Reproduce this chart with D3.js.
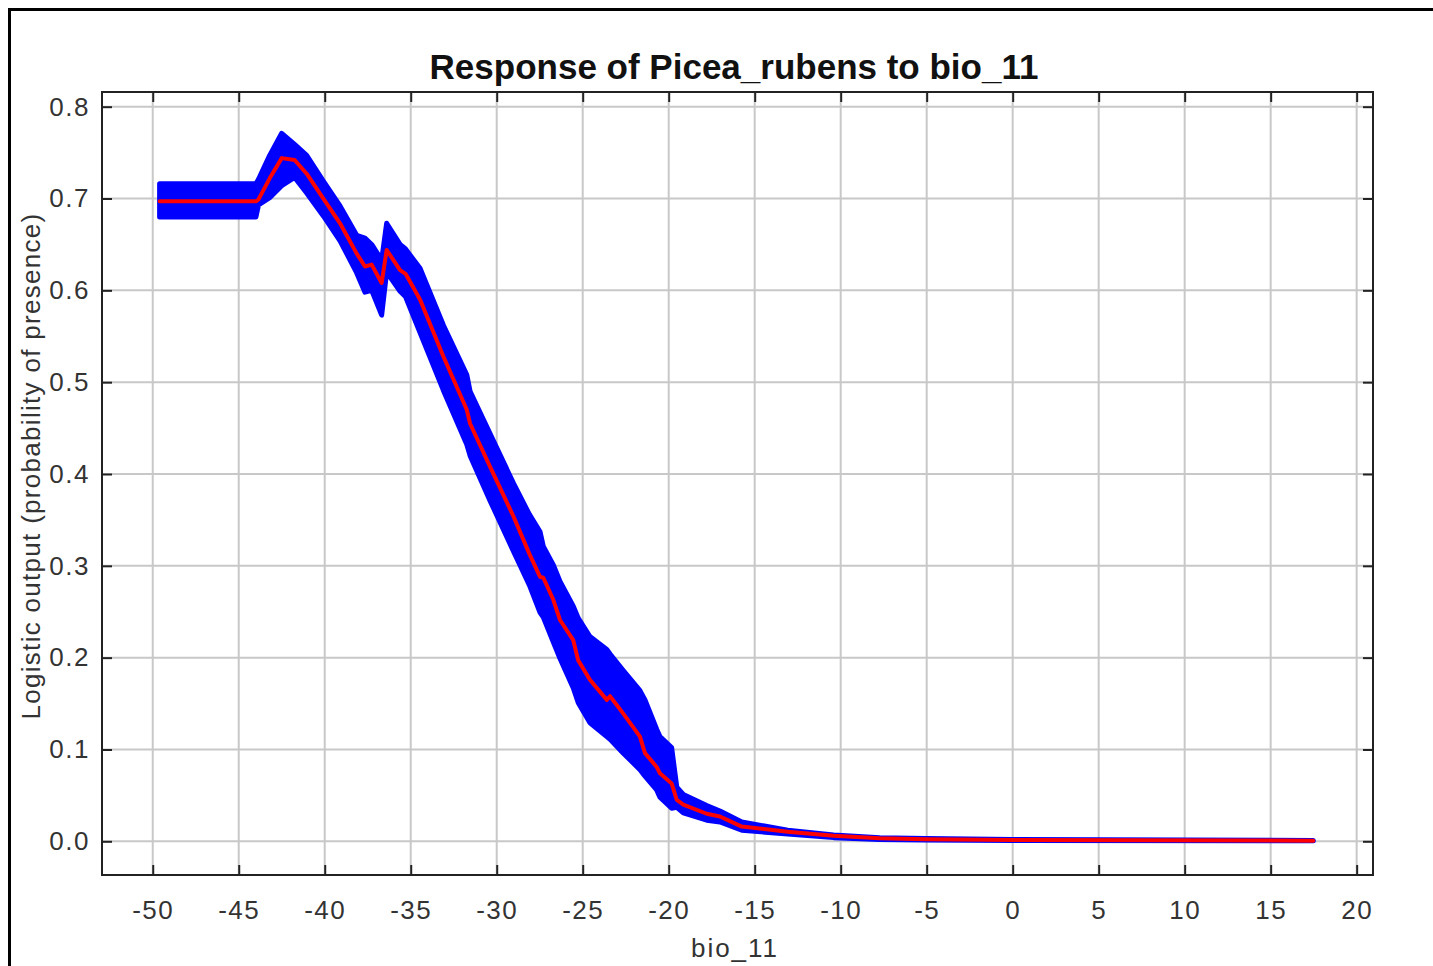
<!DOCTYPE html>
<html>
<head>
<meta charset="utf-8">
<script src="https://cdn.jsdelivr.net/npm/d3@7"></script>
<style>
  body { margin: 0; background: #fff; }
  text { font-family: "Liberation Sans", Arial, sans-serif; }
</style>
</head>
<body>
<div id="chart"></div>
<script>
// bio_11 values (x) and the response: mean, mean+sd, mean-sd
var bio = [-49.6, -44.0, -43.85, -43.2, -42.5, -41.75, -41.05, -40.08, -39.11, -38.14,
  -37.66, -37.27, -36.69, -36.4, -35.62, -35.3, -34.46, -33.1, -31.74, -31.55,
  -30.39, -29.03, -28.1, -27.48, -27.29, -26.71, -26.32, -25.55, -25.26, -24.58,
  -23.6, -23.41, -22.64, -21.67, -21.38, -20.7, -20.51, -19.83, -19.53, -19.15,
  -17.79, -17.02, -15.75, -13.08, -10.41, -7.74, -5.07, 0, 17.48];
var meanVals = [0.697, 0.697, 0.699, 0.722, 0.744, 0.742, 0.727, 0.700, 0.673, 0.640,
  0.626, 0.628, 0.608, 0.644, 0.622, 0.618, 0.590, 0.528, 0.470, 0.455,
  0.408, 0.354, 0.313, 0.288, 0.287, 0.263, 0.241, 0.219, 0.197, 0.176,
  0.154, 0.158, 0.139, 0.114, 0.096, 0.081, 0.074, 0.063, 0.045, 0.040,
  0.030, 0.027, 0.016, 0.0105, 0.006, 0.0033, 0.0022, 0.0015, 0.0007];
var upperVals = [0.716, 0.716, 0.721, 0.747, 0.771, 0.759, 0.747, 0.719, 0.692, 0.660,
  0.657, 0.650, 0.633, 0.673, 0.650, 0.645, 0.624, 0.562, 0.508, 0.490,
  0.444, 0.390, 0.356, 0.337, 0.321, 0.301, 0.283, 0.256, 0.243, 0.223,
  0.209, 0.204, 0.186, 0.164, 0.154, 0.122, 0.114, 0.102, 0.059, 0.051,
  0.039, 0.033, 0.021, 0.012, 0.007, 0.004, 0.003, 0.002, 0.001];
var lowerVals = [0.680, 0.680, 0.693, 0.701, 0.714, 0.723, 0.706, 0.681, 0.654, 0.619,
  0.598, 0.600, 0.573, 0.620, 0.599, 0.593, 0.554, 0.491, 0.432, 0.420,
  0.371, 0.316, 0.279, 0.249, 0.244, 0.217, 0.199, 0.167, 0.151, 0.129,
  0.114, 0.111, 0.096, 0.078, 0.071, 0.056, 0.048, 0.036, 0.037, 0.031,
  0.023, 0.021, 0.012, 0.008, 0.004, 0.002, 0.0015, 0.001, 0.0005];

var xTicks = [-50, -45, -40, -35, -30, -25, -20, -15, -10, -5, 0, 5, 10, 15, 20];
var yTicks = [0.0, 0.1, 0.2, 0.3, 0.4, 0.5, 0.6, 0.7, 0.8];

var W = 1433, H = 966;
var margin = {top: 92, right: 60, bottom: 91, left: 102},
    w = W - margin.left - margin.right,
    h = H - margin.top - margin.bottom;

var data = bio.map(function(d, i) {
  return {x: d, m: meanVals[i], hi: upperVals[i], lo: lowerVals[i]};
});

var svg = d3.select("#chart")
  .append("svg")
  .attr("width", W)
  .attr("height", H);

// outer frame
svg.append("rect")
  .attr("x", 9.5).attr("y", 9.5)
  .attr("width", W + 20).attr("height", H + 20)
  .attr("fill", "none")
  .attr("stroke", "#000")
  .attr("stroke-width", 3);

var g = svg.append("g")
  .attr("transform", "translate(" + margin.left + "," + margin.top + ")");

var x = d3.scaleLinear().domain([-52.95, 20.95]).range([0, w]);
var y = d3.scaleLinear().domain([-0.0367, 0.816]).range([h, 0]);

// grid
g.append("g").selectAll("line")
  .data(xTicks).enter().append("line")
  .attr("x1", function(d) { return x(d); })
  .attr("x2", function(d) { return x(d); })
  .attr("y1", 0).attr("y2", h)
  .attr("stroke", "#c8c8c8").attr("stroke-width", 2);

g.append("g").selectAll("line")
  .data(yTicks).enter().append("line")
  .attr("y1", function(d) { return y(d); })
  .attr("y2", function(d) { return y(d); })
  .attr("x1", 0).attr("x2", w)
  .attr("stroke", "#c8c8c8").attr("stroke-width", 2);

// band (mean +/- sd)
g.append("path")
  .datum(data)
  .attr("fill", "#0000ff")
  .attr("stroke", "#0000ff")
  .attr("stroke-width", 5)
  .attr("stroke-linejoin", "round")
  .attr("d", d3.area()
    .x(function(d) { return x(d.x); })
    .y0(function(d) { return y(d.lo); })
    .y1(function(d) { return y(d.hi); }));

// mean line
g.append("path")
  .datum(data)
  .attr("fill", "none")
  .attr("stroke", "#ff0000")
  .attr("stroke-width", 4)
  .attr("stroke-linejoin", "round")
  .attr("stroke-linecap", "round")
  .attr("d", d3.line()
    .x(function(d) { return x(d.x); })
    .y(function(d) { return y(d.m); }));

// axes with inward ticks (plain hyphen for minus)
var fmtX = function(d) { return String(d); };
var fmtY = function(d) { return d.toFixed(1); };

var xAxis = g.append("g")
  .attr("transform", "translate(0," + h + ")")
  .call(d3.axisBottom(x).tickValues(xTicks).tickFormat(fmtX).tickSize(-10).tickPadding(26).tickSizeOuter(0));
var xTop = g.append("g")
  .call(d3.axisTop(x).tickValues(xTicks).tickSize(-10).tickSizeOuter(0).tickFormat(""));
var yAxis = g.append("g")
  .call(d3.axisLeft(y).tickValues(yTicks).tickFormat(fmtY).tickSize(-10).tickPadding(12).tickSizeOuter(0));
var yRight = g.append("g")
  .attr("transform", "translate(" + w + ",0)")
  .call(d3.axisRight(y).tickValues(yTicks).tickSize(-10).tickSizeOuter(0).tickFormat(""));

[xAxis, xTop, yAxis, yRight].forEach(function(a) {
  a.select(".domain").remove();
  a.selectAll(".tick line").attr("stroke", "#222").attr("stroke-width", 2);
  a.selectAll("text")
    .style("font-family", "'Liberation Sans', Arial, sans-serif")
    .style("font-size", "26px")
    .style("letter-spacing", "1.5px")
    .attr("fill", "#333");
});

// plot frame
g.append("rect")
  .attr("width", w).attr("height", h)
  .attr("fill", "none")
  .attr("stroke", "#222")
  .attr("stroke-width", 2);

// title
svg.append("text")
  .attr("x", 734).attr("y", 79)
  .attr("text-anchor", "middle")
  .style("font-size", "35px")
  .style("font-weight", "bold")
  .attr("fill", "#111")
  .text("Response of Picea_rubens to bio_11");

// axis labels
svg.append("text")
  .attr("x", 735).attr("y", 957)
  .attr("text-anchor", "middle")
  .style("font-size", "26px")
  .style("letter-spacing", "2px")
  .attr("fill", "#333")
  .text("bio_11");

svg.append("text")
  .attr("transform", "translate(40,466) rotate(-90)")
  .attr("text-anchor", "middle")
  .style("font-size", "26px")
  .style("letter-spacing", "1.3px")
  .attr("fill", "#333")
  .text("Logistic output (probability of presence)");
</script>
</body>
</html>
